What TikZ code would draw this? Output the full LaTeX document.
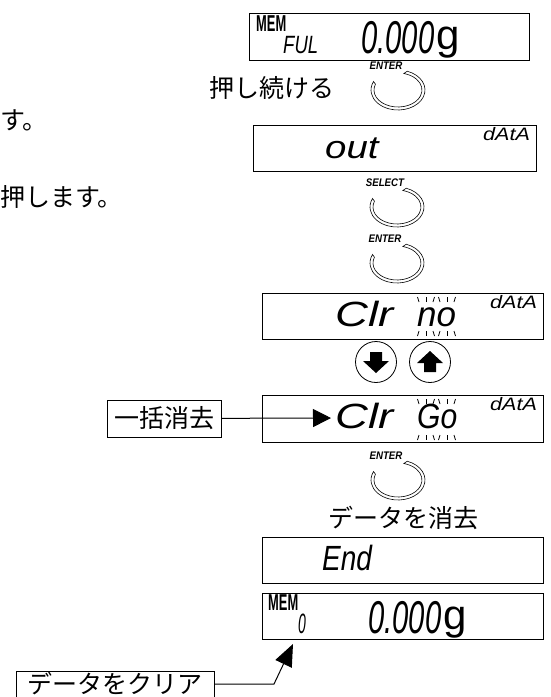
\documentclass[tikz,border=0pt]{standalone}
\usepackage{fontspec}
\usepackage{graphicx}
\usepackage{tikz}
\usetikzlibrary{arrows.meta,calc,positioning}
\newfontfamily\jpfont{Noto Sans CJK JP}
\newfontfamily\segfont{Liberation Sans}
\newcommand{\segtext}[3]{{\segfont\itshape\fontsize{#1}{#1}\selectfont\scalebox{#2}[1]{#3}}}
\newcommand{\memtext}{{\segfont\bfseries\fontsize{23}{23}\selectfont\scalebox{0.56}[1]{MEM}}}
\newcommand{\keyring}[1]{%
  \draw[ring] ($(#1)+(-70:27 and 20)$) arc[start angle=-70, end angle=205, x radius=27, y radius=20]
    -- ($(#1)+(200:24 and 17)$) arc[start angle=200, end angle=-76, x radius=24, y radius=17] -- cycle;}

\begin{document}
\begin{tikzpicture}[x=1pt, y=-1pt,
    lcd/.style={draw, line width=1pt, anchor=north west, minimum width=281pt, minimum height=46pt, inner sep=0pt},
    seg/.style={anchor=base west, inner sep=0pt},
    jp/.style={font=\jpfont\fontsize{25}{30}\selectfont, inner sep=0pt},
    keylabel/.style={font=\segfont\bfseries\itshape\fontsize{11}{11}\selectfont, inner sep=0pt},
    ring/.style={line width=0.6pt},
    arrowkey/.style={draw, circle, line width=0.8pt, minimum size=41pt, inner sep=0pt},
    tagbox/.style={draw, line width=1pt, font=\jpfont\fontsize{25}{30}\selectfont, inner sep=0pt},
    tick/.style={line width=0.8pt},
    link/.style={line width=1pt, -{Triangle[length=18pt, width=18pt]}}
  ]
  \useasboundingbox (0,0) rectangle (550,697);
  \clip (0,0) rectangle (550,697);

  % left text of the page
  \node[jp, anchor=west] (line1) at (0,120) {す。};
  \node[jp, anchor=west] (line2) at (0,197) {押します。};

  % displays
  \node[lcd, minimum width=280pt, minimum height=47pt] (d1) at (249,13) {};
  \node[lcd, minimum width=283pt] (d2) at (253,125) {};
  \node[lcd] (d3) at (262,293) {};
  \node[lcd, minimum height=47pt] (d4) at (262,395) {};
  \node[lcd] (d5) at (262,537) {};
  \node[lcd] (d6) at (262,593) {};

  \node[seg] (mem1) at (256,31) {\memtext};
  \node[seg] (ful) at (283,53) {\segtext{25}{0.74}{FUL}};
  \node[seg] (wt1) at (361,53) {\segtext{46}{0.635}{0.000}};
  \node[seg] (g1) at (436,49) {\segfont\fontsize{42}{42}\selectfont g};

  \node[seg] (out) at (325,158) {\segtext{32}{1.2}{out}};
  \node[seg] (dat2) at (483,140) {\segtext{18}{1.2}{dAtA}};

  \node[seg] (clr3) at (335,326) {\segtext{35}{1.3}{Clr}};
  \node[seg] (no) at (417,326) {\segtext{35}{1.0}{no}};
  \node[seg] (dat3) at (490,308) {\segtext{18}{1.2}{dAtA}};

  \node[seg] (clr4) at (335,428) {\segtext{35}{1.3}{Clr}};
  \node[seg] (go) at (417,428) {\segtext{35}{0.86}{Go}};
  \node[seg] (dat4) at (490,410) {\segtext{18}{1.2}{dAtA}};

  \node[seg] (end) at (322,570) {\segtext{35}{0.8}{End}};

  \node[seg] (mem6) at (268,610) {\memtext};
  \node[seg] (zero) at (298,633) {\segtext{28}{0.5}{0}};
  \node[seg] (wt6) at (368,633) {\segtext{46}{0.635}{0.000}};
  \node[seg] (g6) at (443,629) {\segfont\fontsize{42}{42}\selectfont g};

  % blinking marks
  \foreach \cx in {419,440} {
    \foreach \dx/\sl in {0/-1.5,7/0,14/1.5} {
      \draw[tick] (\cx+\dx,302) -- ++(\sl,-5);
      \draw[tick] (\cx+\dx,331) -- ++(\sl,5);
      \draw[tick] (\cx+\dx,404) -- ++(\sl,-5);
      \draw[tick] (\cx+\dx,435) -- ++(\sl,5);
    }
  }

  % keys
  \coordinate (k1) at (398,90);
  \coordinate (k2) at (397,207);
  \coordinate (k3) at (397,263);
  \coordinate (k4) at (398,480);
  \keyring{k1}
  \keyring{k2}
  \keyring{k3}
  \keyring{k4}
  \node[keylabel] (enter1) at ($(k1)+(-12,-24)$) {\scalebox{0.88}[1]{ENTER}};
  \node[keylabel] (select) at ($(k2)+(-12,-24)$) {\scalebox{0.88}[1]{SELECT}};
  \node[keylabel] (enter2) at ($(k3)+(-12,-24)$) {\scalebox{0.88}[1]{ENTER}};
  \node[keylabel] (enter3) at ($(k4)+(-12,-24)$) {\scalebox{0.88}[1]{ENTER}};

  \node[arrowkey] (dn) at (376,362) {};
  \node[arrowkey] (up) at (430,362) {};
  \fill[shift={(dn.center)}] (-6,-10) -- (6,-10) -- (6,-1) -- (13,-1) -- (0,11) -- (-13,-1) -- (-6,-1) -- cycle;
  \fill[shift={(up.center)}] (-6,10) -- (6,10) -- (6,1) -- (13,1) -- (0,-11) -- (-13,1) -- (-6,1) -- cycle;

  % captions
  \node[jp] (hold) at (272,88) {押し続ける};
  \node[jp] (erase) at (403,518) {データを消去};

  \node[tagbox, minimum width=114pt, minimum height=37pt] (bulk) at (164,418.5) {一括消去};
  \coordinate (clrpt) at (331,418);
  \draw[link] (bulk) -- (clrpt);

  \node[tagbox, minimum width=198pt, minimum height=26pt] (clear) at (115,684) {データをクリア};
  \coordinate (bend) at (274,684);
  \coordinate (memtip) at (293,644);
  \draw[link, -{Triangle[length=22pt, width=18pt]}] (clear) -- (bend) -- (memtip);
\end{tikzpicture}
\end{document}
